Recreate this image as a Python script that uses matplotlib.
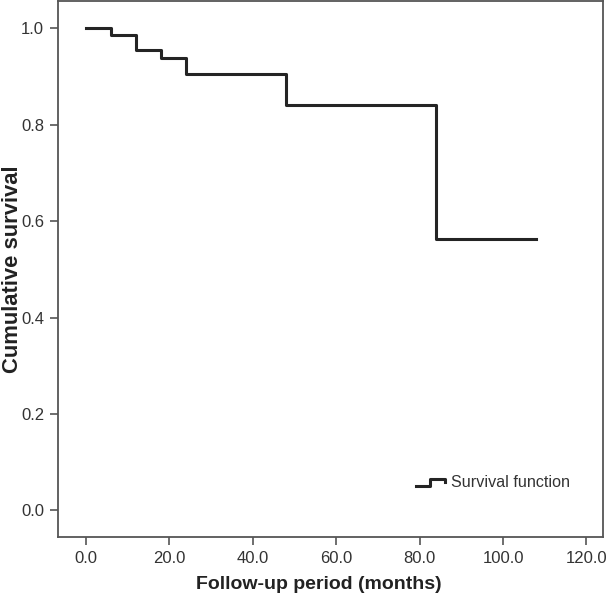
import matplotlib
matplotlib.use('Agg')
import matplotlib.pyplot as plt
from matplotlib.legend_handler import HandlerBase
from matplotlib.lines import Line2D

plt.rcParams['font.family'] = ['Liberation Sans', 'DejaVu Sans']

# Kaplan-Meier step points (months, cumulative survival)
months = [0, 6, 12, 18, 24, 48, 84, 108]
survival = [1.0, 0.986, 0.955, 0.938, 0.906, 0.841, 0.562, 0.562]

xticks = [0, 20, 40, 60, 80, 100, 120]
yticks = [0.0, 0.2, 0.4, 0.6, 0.8, 1.0]


class StepHandler(HandlerBase):
    def create_artists(self, legend, orig_handle, xdescent, ydescent,
                       width, height, fontsize, trans):
        x0 = -xdescent
        w = width
        h = height
        xs = [x0, x0 + 0.45 * w, x0 + 0.45 * w, x0 + w * 0.95, x0 + w * 0.95]
        ys = [h * 0.15, h * 0.15, h * 0.75, h * 0.75, h * 0.45]
        ln = Line2D(xs, ys, color=orig_handle.get_color(), lw=2.2,
                    transform=trans)
        return [ln]


fig = plt.figure(figsize=(6.08, 5.93), dpi=100)
ax = fig.add_axes([0.0954, 0.0944, 0.8966, 0.9036])

line, = ax.step(months, survival, where='post', color='#242424', lw=2.2,
                label='Survival function')

ax.set_xlim(-6.7, 124)
ax.set_ylim(-0.055, 1.056)
ax.set_xticks(xticks)
ax.set_xticklabels(['%.1f' % v for v in xticks])
ax.set_yticks(yticks)
ax.set_yticklabels(['%.1f' % v for v in yticks])

for s in ax.spines.values():
    s.set_color('#555555')
    s.set_linewidth(1.3)
ax.tick_params(colors='#555555', labelcolor='#333333', labelsize=12,
               length=6, width=1.2, pad=4)

ax.set_xlabel('Follow-up period (months)', fontsize=14, fontweight='bold',
              color='#222222', labelpad=4)
ax.xaxis.set_label_coords(0.479, -0.072)
ax.set_ylabel('Cumulative survival', fontsize=15.8, fontweight='bold',
              color='#222222')
ax.yaxis.set_label_coords(-0.064, 0.5)

leg = ax.legend(handles=[line], handler_map={Line2D: StepHandler()},
                loc='lower right', bbox_to_anchor=(0.965, 0.06),
                frameon=False, fontsize=11.6, handlelength=1.9,
                handletextpad=0.25)
for t in leg.get_texts():
    t.set_color('#333333')

plt.savefig('out.png', dpi=100)
